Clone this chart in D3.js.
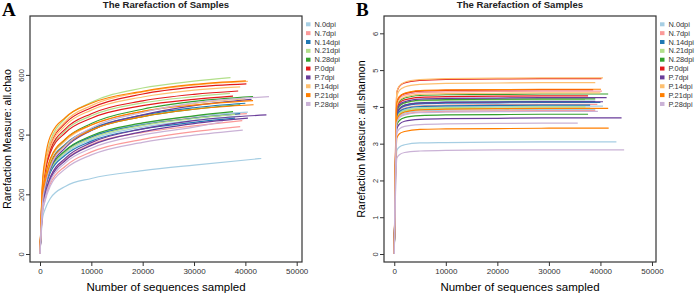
<!DOCTYPE html>
<html>
<head>
<meta charset="utf-8">
<script src="https://cdn.jsdelivr.net/npm/d3@7"></script>
<style>
  body { margin: 0; background: #fff; }
  svg { display: block; font-family: Arial, "Liberation Sans", sans-serif; }
</style>
</head>
<body>
<script>
// groups and colours (RColorBrewer "Paired")
const groups = ["N.0dpi", "N.7dpi", "N.14dpi", "N.21dpi", "N.28dpi", "P.0dpi", "P.7dpi", "P.14dpi", "P.21dpi", "P.28dpi"];
const groupColors = ["#A6CEE3", "#FB9A99", "#1F78B4", "#B2DF8A", "#33A02C", "#E31A1C", "#6A3D9A", "#FDBF6F", "#FF7F00", "#CAB2D6"];

// one entry per sample: its group and its last sampled depth
const sampleGroup = [0, 0, 0, 1, 1, 1, 2, 2, 2, 3, 3, 3, 4, 4, 4, 5, 5, 5, 6, 6, 6, 7, 7, 7, 8, 8, 8, 9, 9, 9];
const sampleDepth = [43100, 40500, 39000, 39400, 39000, 40300, 40000, 39000, 38000, 37100, 37000, 38000,
  41500, 37600, 39000, 40200, 38600, 37600, 41200, 44100, 40500, 40500, 39000, 40000, 40100, 41500, 41600,
  44600, 39500, 35600];

// depths read along each curve, then the sample's last depth
const depthSteps = [0, 500, 1000, 2000, 5000, 10000, 20000, 30000];

const chaoValues = [
  [0, 120, 150, 186, 227, 253, 279, 298, 320],
  [0, 176, 228, 285, 347, 394, 437, 461, 475],
  [0, 171, 222, 277, 337, 383, 425, 448, 462],
  [0, 156, 206, 259, 317, 367, 407, 429, 447],
  [0, 141, 184, 235, 295, 342, 384, 410, 427],
  [0, 174, 226, 282, 343, 390, 432, 456, 470],
  [0, 187, 242, 303, 369, 419, 465, 490, 505],
  [0, 170, 222, 280, 345, 392, 433, 455, 470],
  [0, 168, 218, 273, 332, 378, 419, 441, 455],
  [0, 236, 307, 378, 455, 508, 556, 579, 591],
  [0, 215, 280, 344, 414, 463, 506, 527, 538],
  [0, 173, 225, 281, 342, 388, 431, 454, 468],
  [0, 195, 253, 316, 385, 437, 485, 511, 527],
  [0, 176, 229, 286, 348, 396, 439, 463, 477],
  [0, 185, 240, 300, 365, 415, 460, 485, 500],
  [0, 228, 296, 365, 439, 490, 536, 559, 570],
  [0, 218, 284, 349, 420, 470, 513, 535, 546],
  [0, 212, 275, 339, 407, 455, 497, 518, 529],
  [0, 171, 223, 285, 357, 414, 466, 497, 518],
  [0, 154, 200, 256, 322, 373, 419, 447, 466],
  [0, 150, 196, 250, 314, 364, 410, 437, 455],
  [0, 231, 301, 370, 445, 497, 543, 566, 578],
  [0, 224, 291, 358, 431, 482, 526, 549, 560],
  [0, 192, 250, 312, 380, 432, 478, 504, 520],
  [0, 244, 319, 394, 458, 505, 545, 568, 580],
  [0, 200, 257, 319, 386, 432, 478, 499, 514],
  [0, 185, 240, 300, 365, 415, 460, 485, 500],
  [0, 174, 227, 290, 364, 422, 474, 506, 527],
  [0, 137, 178, 228, 286, 332, 374, 398, 415],
  [0, 146, 190, 244, 306, 354, 399, 425, 443]
];

const shannonValues = [
  [0, 2.81, 2.91, 2.97, 3.02, 3.03, 3.04, 3.05, 3.05],
  [0, 3.70, 3.84, 3.92, 3.98, 4.00, 4.01, 4.02, 4.02],
  [0, 3.62, 3.75, 3.83, 3.89, 3.91, 3.92, 3.93, 3.93],
  [0, 3.74, 3.89, 3.97, 4.03, 4.05, 4.06, 4.07, 4.07],
  [0, 3.59, 3.72, 3.80, 3.86, 3.88, 3.89, 3.90, 3.90],
  [0, 4.08, 4.23, 4.32, 4.39, 4.41, 4.42, 4.43, 4.43],
  [0, 3.79, 3.93, 4.02, 4.08, 4.10, 4.11, 4.12, 4.12],
  [0, 3.82, 3.96, 4.05, 4.11, 4.13, 4.14, 4.15, 4.15],
  [0, 3.73, 3.87, 3.95, 4.01, 4.03, 4.04, 4.05, 4.05],
  [0, 3.68, 3.82, 3.90, 3.96, 3.98, 3.99, 4.00, 4.00],
  [0, 3.86, 4.01, 4.10, 4.16, 4.18, 4.19, 4.20, 4.20],
  [0, 3.65, 3.79, 3.87, 3.93, 3.95, 3.96, 3.97, 3.97],
  [0, 4.00, 4.15, 4.24, 4.31, 4.33, 4.34, 4.35, 4.35],
  [0, 3.50, 3.63, 3.71, 3.76, 3.78, 3.79, 3.80, 3.80],
  [0, 3.88, 4.03, 4.11, 4.18, 4.20, 4.21, 4.22, 4.22],
  [0, 4.39, 4.56, 4.65, 4.72, 4.75, 4.76, 4.77, 4.77],
  [0, 4.11, 4.27, 4.36, 4.43, 4.45, 4.46, 4.47, 4.47],
  [0, 3.96, 4.11, 4.19, 4.26, 4.28, 4.29, 4.30, 4.30],
  [0, 3.91, 4.06, 4.14, 4.21, 4.23, 4.24, 4.25, 4.25],
  [0, 3.40, 3.53, 3.61, 3.66, 3.68, 3.69, 3.70, 3.70],
  [0, 3.81, 3.95, 4.04, 4.10, 4.12, 4.13, 4.14, 4.14],
  [0, 4.41, 4.57, 4.67, 4.74, 4.77, 4.78, 4.79, 4.79],
  [0, 4.29, 4.45, 4.54, 4.61, 4.64, 4.65, 4.66, 4.66],
  [0, 4.03, 4.18, 4.27, 4.34, 4.36, 4.37, 4.38, 4.38],
  [0, 4.12, 4.28, 4.37, 4.44, 4.46, 4.47, 4.48, 4.48],
  [0, 3.64, 3.78, 3.86, 3.92, 3.94, 3.95, 3.96, 3.96],
  [0, 3.15, 3.27, 3.33, 3.39, 3.40, 3.41, 3.42, 3.42],
  [0, 2.60, 2.70, 2.76, 2.80, 2.82, 2.83, 2.83, 2.83],
  [0, 3.57, 3.71, 3.78, 3.84, 3.86, 3.87, 3.88, 3.88],
  [0, 3.28, 3.40, 3.47, 3.52, 3.54, 3.55, 3.56, 3.56]
];

const xTicks = [0, 10000, 20000, 30000, 40000, 50000];
const chaoTicks = [0, 200, 400, 600];
const shannonTicks = [0, 1, 2, 3, 4, 5, 6];

const width = 696;
const height = 294;

const svg = d3.select("body").append("svg")
    .attr("width", width)
    .attr("height", height)
    .attr("viewBox", [0, 0, width, height]);

function drawPanel(p) {
  const x = d3.scaleLinear().domain(p.xDomain).range([p.left, p.right]);
  const y = d3.scaleLinear().domain(p.yDomain).range([p.bottom, p.top]);

  const line = d3.line()
      .x(d => x(d[0]))
      .y(d => y(d[1]))
      .curve(d3.curveMonotoneX);

  // one line per sample
  const g = svg.append("g").attr("fill", "none").attr("stroke-width", 1.2);
  p.values.forEach((vals, i) => {
    const depths = depthSteps.concat([sampleDepth[i]]);
    g.append("path")
        .datum(vals.map((v, j) => [depths[j], v]))
        .attr("stroke", groupColors[sampleGroup[i]])
        .attr("d", line);
  });

  // frame
  svg.append("rect")
      .attr("x", p.left).attr("y", p.top)
      .attr("width", p.right - p.left).attr("height", p.bottom - p.top)
      .attr("fill", "none").attr("stroke", "#333").attr("stroke-width", 1.2);

  // x axis
  svg.append("g")
      .attr("transform", `translate(0,${p.bottom})`)
      .call(d3.axisBottom(x).tickValues(xTicks).tickSize(4).tickPadding(2).tickFormat(d3.format("d")))
      .call(g => g.select(".domain").remove())
      .call(g => g.selectAll(".tick line").attr("stroke", "#333"))
      .call(g => g.selectAll("text").attr("fill", "#333").style("font-size", "8px"));

  // y axis, labels turned like R's
  const ya = svg.append("g")
      .attr("transform", `translate(${p.left},0)`)
      .call(d3.axisLeft(y).tickValues(p.yTicks).tickSize(4).tickFormat(d3.format("d")))
      .call(g => g.select(".domain").remove())
      .call(g => g.selectAll(".tick line").attr("stroke", "#333"));
  ya.selectAll("text")
      .attr("x", null).attr("dy", null)
      .attr("transform", "translate(-6,0) rotate(-90)")
      .attr("text-anchor", "middle")
      .attr("fill", "#333")
      .style("font-size", "7.5px");

  // axis titles
  svg.append("text")
      .attr("x", (p.left + p.right) / 2)
      .attr("y", 291)
      .attr("text-anchor", "middle")
      .style("font-size", "11.5px")
      .text("Number of sequences sampled");

  svg.append("text")
      .attr("transform", `translate(${p.left - 19},${(p.top + p.bottom) / 2}) rotate(-90)`)
      .attr("text-anchor", "middle")
      .style("font-size", "10.5px")
      .text(p.yTitle);

  // title and panel letter
  svg.append("text")
      .attr("x", (p.left + p.right) / 2)
      .attr("y", 8)
      .attr("text-anchor", "middle")
      .style("font-size", "9.6px")
      .style("font-weight", "bold")
      .attr("fill", "#222")
      .text("The Rarefaction of Samples");

  svg.append("text")
      .attr("x", p.letterX)
      .attr("y", 16)
      .style("font-family", "'Liberation Serif', 'DejaVu Serif', serif")
      .style("font-size", "19px")
      .style("font-weight", "bold")
      .text(p.letter);

  // legend
  const lg = svg.append("g").attr("transform", `translate(${p.right + 4},24.3)`);
  groups.forEach((name, i) => {
    lg.append("rect")
        .attr("x", 0).attr("y", i * 8.85 - 2)
        .attr("width", 4.5).attr("height", 4)
        .attr("fill", groupColors[i]);
    lg.append("text")
        .attr("x", 8.5).attr("y", i * 8.85 + 2.6)
        .attr("fill", "#333")
        .style("font-size", "7.4px")
        .text(name);
  });
}

drawPanel({
  left: 30, right: 302, top: 16, bottom: 262,
  xDomain: [-1948, 51032], yDomain: [-26.8, 797.3],
  yTicks: chaoTicks, values: chaoValues,
  yTitle: "Rarefaction Measure: all.chao",
  letter: "A", letterX: 2
});

drawPanel({
  left: 384, right: 656, top: 16, bottom: 262,
  xDomain: [-1990, 50780], yDomain: [-0.2175, 6.471],
  yTicks: shannonTicks, values: shannonValues,
  yTitle: "Rarefaction Measure: all.shannon",
  letter: "B", letterX: 356
});
</script>
</body>
</html>
